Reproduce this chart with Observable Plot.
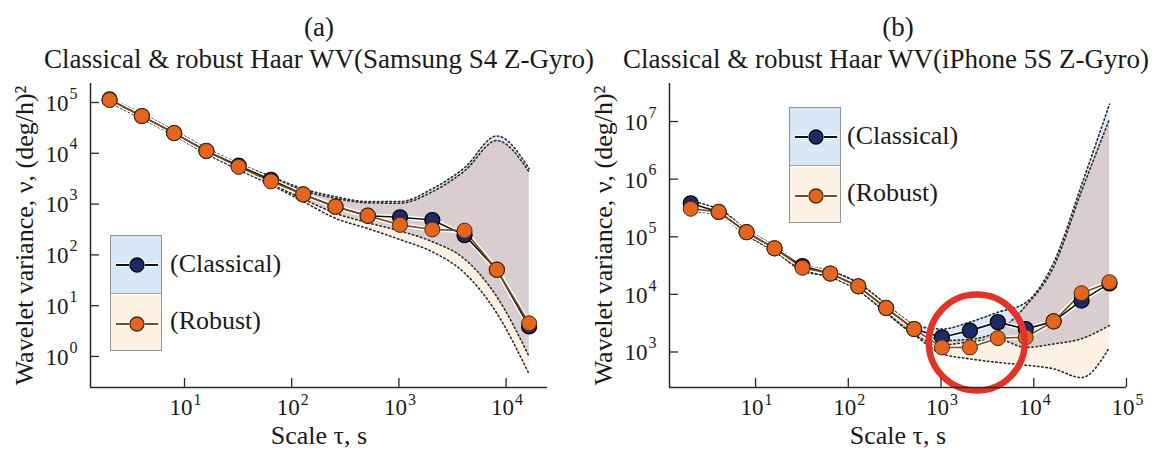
<!DOCTYPE html>
<html><head><meta charset="utf-8">
<script src="https://cdn.jsdelivr.net/npm/d3@7"></script>
<script src="https://cdn.jsdelivr.net/npm/@observablehq/plot@0.6"></script>
<style>
body{margin:0;background:#fff;}
#wrap{position:relative;width:1158px;height:457px;display:flex;font-family:"Liberation Serif","Times New Roman",serif;color:#1a1a1a;background:#fff;}
.panel{position:relative;width:579px;height:457px;}
.panel svg{display:block;overflow:visible;}
.legbox{position:absolute;border:1.5px solid #8e949c;box-sizing:border-box;overflow:hidden;}
.legtxt{position:absolute;font-size:26px;line-height:26px;white-space:nowrap;}
</style></head>
<body><div id="wrap"><div class="panel" id="pa"></div><div class="panel" id="pb"></div></div>
<script>
// ---------- Panel (a): Samsung S4 Z-Gyro ----------
const scaleA = [2,4,8,16,32,64,128,256,512,1024,2048,4096,8192,16384];
const classicalA = [115000,54000,25000,11100,5700,3000,1550,890,590,550,485,245,51,3.9];
const robustA    = [112000,54000,25000,11100,5400,2800,1550,890,590,390,316,300,51,4.5];
const classicalLoA = [102000,49000,23000,10000,4900,2500,1260,660,430,295,182,83,15,1.0];
const classicalHiA = [123000,60000,28000,12600,6300,3500,2000,1400,1120,1120,2000,5200,21900,5000];
const robustLoA    = [100000,48000,22400,9800,4700,2400,1120,525,330,200,115,44,7.1,0.45];
const robustHiA    = [120000,59000,27500,12300,6000,3300,1850,1300,1060,1040,1750,4500,17800,4300];
const xTicksA = [10,100,1000,10000];
const yTicksA = [1,10,100,1000,10000,100000];

// ---------- Panel (b): iPhone 5S Z-Gyro ----------
const scaleB = [2,4,8,16,32,64,128,256,512,1024,2048,4096,8192,16384,32768,65536];
const classicalB = [380000,270000,120000,63000,31000,23000,13800,5800,2500,1800,2350,3300,2500,3400,7800,15500];
const robustB    = [306000,270000,120000,63000,29000,23000,13800,5800,2500,1200,1200,1740,1800,3400,10500,16300];
const classicalLoB = [331000,240000,107000,56000,27000,20000,11700,4800,2000,1320,1510,1660,1200,1380,1700,2900];
const classicalHiB = [417000,295000,132000,69000,34000,25700,15800,6800,2950,2500,3300,4900,7200,35500,794000,20000000];
const robustLoB    = [275000,240000,107000,56000,25700,20000,11700,4800,2000,930,760,660,590,510,360,1200];
const robustHiB    = [339000,295000,132000,69000,31600,25100,15500,6600,2900,1580,1660,2300,6300,30000,620000,11000000];
const xTicksB = [10,100,1000,10000,100000];
const yTicksB = [1000,10000,100000,1000000,10000000];
const highlightB = [{x: 2430, y: 1460}];

const titles = {
  a: ["(a)", "Classical & robust Haar WV(Samsung S4 Z-Gyro)", 0],
  b: ["(b)", "Classical & robust Haar WV(iPhone 5S Z-Gyro)", -12]
};
const xLabel = "Scale τ, s";
const yLabel = "Wavelet variance, ν, (deg/h)²";
const legendLabels = ["(Classical)", "(Robust)"];

const C = {
  orange: "#e4651f", orangeStroke: "#4a2a0c", navy: "#1e2a68", navyStroke: "#050505",
  robLine: "#7a4d1c", clsLine: "#111", blue: "#d9e8f6", peach: "#fdf1e3", mauve: "#d9cdcf",
  dots: "#2b2b2b", axis: "#2a2a2a", red: "#e2332a"
};

function rows(scale, cls, rob, clLo, clHi, rbLo, rbHi) {
  return scale.map((x, i) => ({
    x, cls: cls[i], rob: rob[i], clLo: clLo[i], clHi: clHi[i], rbLo: rbLo[i], rbHi: rbHi[i],
    ovLo: Math.max(clLo[i], rbLo[i]), ovHi: Math.min(clHi[i], rbHi[i])
  }));
}
const expo = d => String(Math.round(Math.log10(d)));

function panel(data, xDom, yDom, xTicks, yTicks, title, extra) {
  const curve = "monotone-x";
  const dotted = {stroke: C.dots, strokeWidth: 1.6, strokeDasharray: "1.4,2.8", curve};
  return Plot.plot({
    width: 579, height: 457,
    marginLeft: 90, marginRight: 32, marginTop: 83, marginBottom: 70,
    x: {type: "log", domain: xDom, axis: null},
    y: {type: "log", domain: yDom, axis: null},
    style: {fontFamily: "Liberation Serif, Times New Roman, serif", background: "transparent", color: "#1a1a1a", overflow: "visible"},
    marks: [
      Plot.areaY(data, {x: "x", y1: "rbLo", y2: "rbHi", fill: C.peach, curve}),
      Plot.areaY(data, {x: "x", y1: "clLo", y2: "clHi", fill: C.blue, curve}),
      Plot.areaY(data, {x: "x", y1: "ovLo", y2: "ovHi", fill: C.mauve, curve}),
      Plot.line(data, {x: "x", y: "clHi", ...dotted}),
      Plot.line(data, {x: "x", y: "rbHi", ...dotted}),
      Plot.line(data, {x: "x", y: "clLo", ...dotted}),
      Plot.line(data, {x: "x", y: "rbLo", ...dotted}),
      Plot.line(data, {x: "x", y: "cls", stroke: "white", strokeWidth: 4.5}),
      Plot.line(data, {x: "x", y: "rob", stroke: "white", strokeWidth: 4.5}),
      Plot.line(data, {x: "x", y: "cls", stroke: C.clsLine, strokeWidth: 1.6}),
      Plot.line(data, {x: "x", y: "rob", stroke: C.robLine, strokeWidth: 1.6}),
      Plot.dot(data, {x: "x", y: "cls", r: 7.5, fill: C.navy, stroke: C.navyStroke, strokeWidth: 1.3}),
      Plot.dot(data, {x: "x", y: "rob", r: 7.5, fill: C.orange, stroke: C.orangeStroke, strokeWidth: 1}),
      ...extra,
      // axis lines
      Plot.ruleY([yDom[0]], {stroke: C.axis, strokeWidth: 1.5}),
      Plot.ruleX([xDom[0]], {stroke: C.axis, strokeWidth: 1.5}),
      // inward ticks
      Plot.axisX(xTicks, {tickSize: -9, tickFormat: () => "", label: null, stroke: C.axis, strokeWidth: 1.3}),
      Plot.axisY(yTicks, {tickSize: -9, tickFormat: () => "", label: null, stroke: C.axis, strokeWidth: 1.3}),
      // tick labels 10^n
      Plot.text(xTicks, {x: d => d, text: () => "10", frameAnchor: "bottom", textAnchor: "end", dx: 8, dy: 27, fontSize: 23}),
      Plot.text(xTicks, {x: d => d, text: expo, frameAnchor: "bottom", textAnchor: "start", dx: 9, dy: 17, fontSize: 16}),
      Plot.text(yTicks, {y: d => d, text: () => "10", frameAnchor: "left", textAnchor: "end", dx: -22, dy: 1, fontSize: 23}),
      Plot.text(yTicks, {y: d => d, text: expo, frameAnchor: "left", textAnchor: "start", dx: -21, dy: -9, fontSize: 16}),
      // axis titles
      Plot.text([xLabel], {frameAnchor: "bottom", textAnchor: "middle", dy: 56, fontSize: 26}),
      Plot.text([yLabel], {frameAnchor: "left", textAnchor: "middle", rotate: -90, dx: -66, fontSize: 26}),
      // panel titles
      Plot.text([title[0]], {frameAnchor: "top", textAnchor: "middle", dy: -67, fontSize: 27}),
      Plot.text([title[1]], {frameAnchor: "top", textAnchor: "middle", dx: title[2], dy: -35, fontSize: 27})
    ]
  });
}

const dataA = rows(scaleA, classicalA, robustA, classicalLoA, classicalHiA, robustLoA, robustHiA);
const dataB = rows(scaleB, classicalB, robustB, classicalLoB, classicalHiB, robustLoB, robustHiB);

const pa = document.getElementById("pa");
const pb = document.getElementById("pb");
pa.appendChild(panel(dataA, [1.327, 24322], [0.245, 236600], xTicksA, yTicksA, titles.a, []));
pb.appendChild(panel(dataB, [1.18, 100000], [242, 45700000], xTicksB, yTicksB, titles.b, [
  Plot.dot(highlightB, {x: "x", y: "y", r: 48, fill: "none", stroke: C.red, strokeWidth: 6.5})
]));

function marker(fill, stroke, line) {
  return `<svg width="44" height="22" style="position:absolute;left:4px;top:18px">
    <line x1="1" y1="11" x2="43" y2="11" stroke="white" stroke-width="4"/>
    <line x1="1" y1="11" x2="43" y2="11" stroke="${line}" stroke-width="1.8"/>
    <circle cx="22" cy="11" r="8" fill="white"/>
    <circle cx="22" cy="11" r="7" fill="${fill}" stroke="${stroke}" stroke-width="1.3"/></svg>`;
}
function legend(host, left, top, textLeft) {
  const box = document.createElement("div");
  box.className = "legbox";
  Object.assign(box.style, {left: left + "px", top: top + "px", width: "52px", height: "116px"});
  box.innerHTML =
    `<div style="position:absolute;left:0;top:0;width:100%;height:57px;background:${C.blue};border-bottom:1.5px solid #9aa0a8">${marker(C.navy, C.navyStroke, C.clsLine)}</div>` +
    `<div style="position:absolute;left:0;top:58.5px;width:100%;height:56px;background:${C.peach}">${marker(C.orange, C.orangeStroke, C.robLine)}</div>`;
  host.appendChild(box);
  legendLabels.forEach((t, i) => {
    const d = document.createElement("div");
    d.className = "legtxt";
    d.textContent = t;
    Object.assign(d.style, {left: textLeft + "px", top: (top + 16 + i * 57) + "px"});
    host.appendChild(d);
  });
}
legend(pa, 110, 235, 170);
legend(pb, 210, 107, 268);
</script></body></html>
